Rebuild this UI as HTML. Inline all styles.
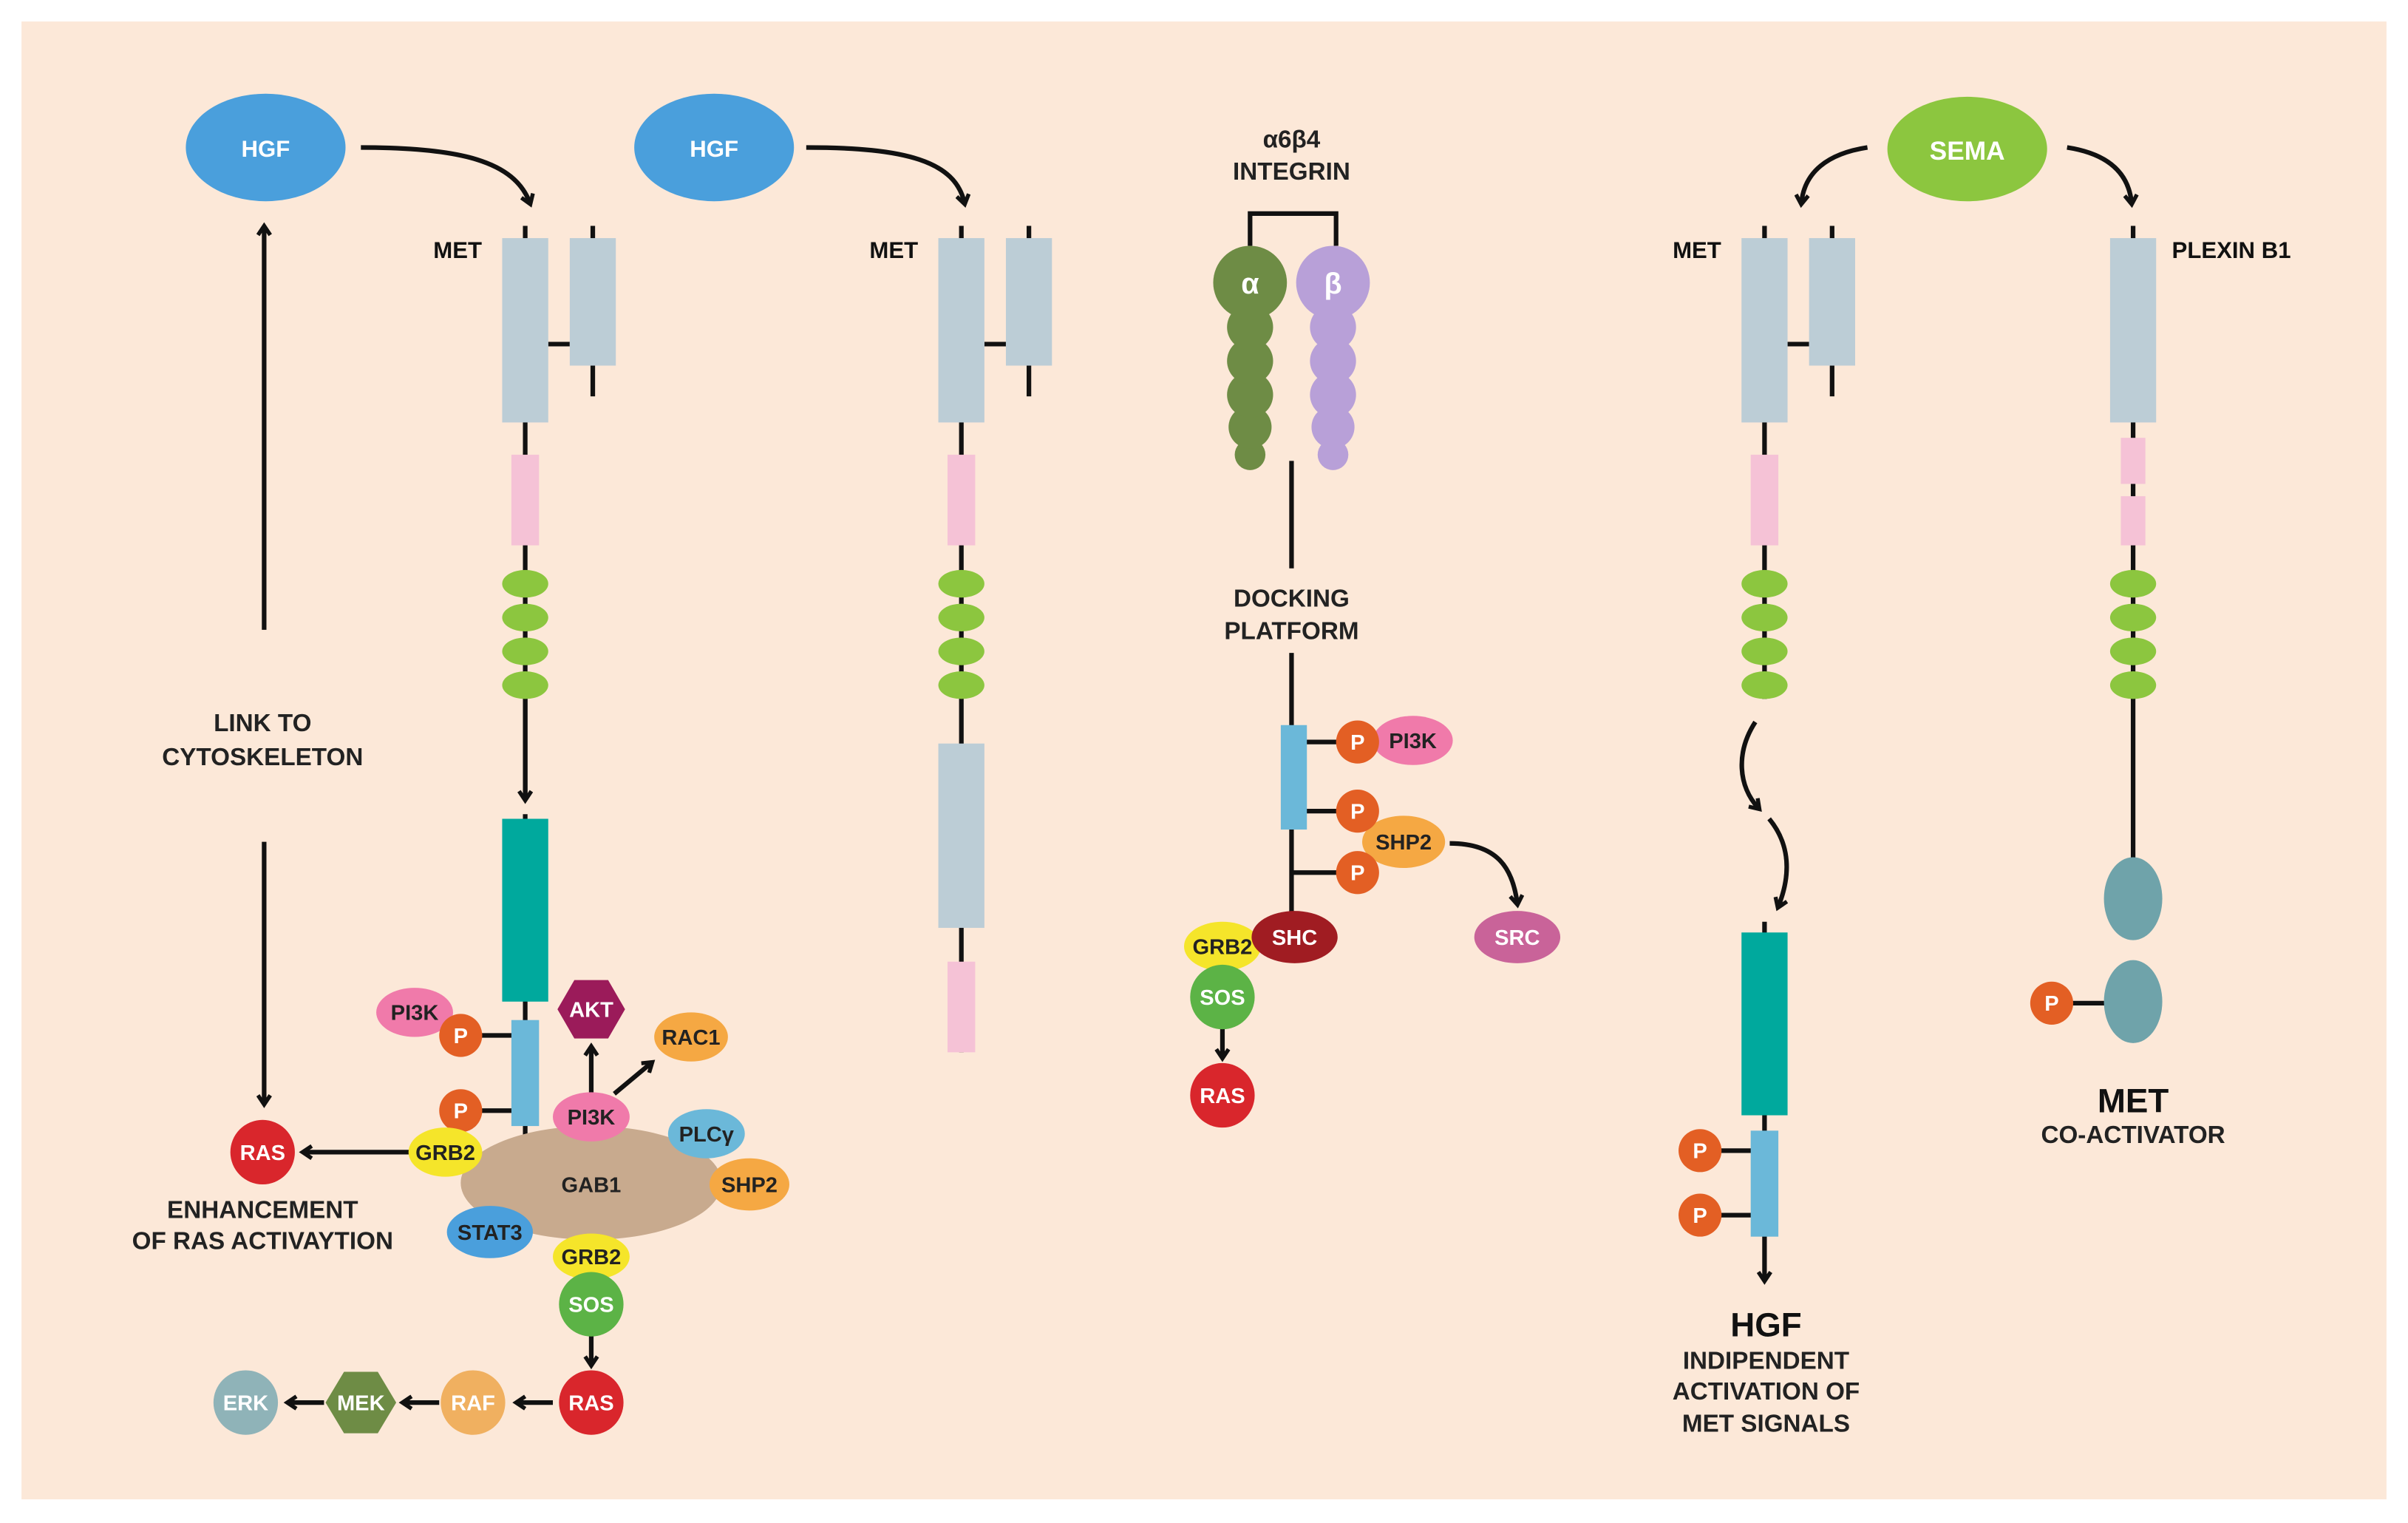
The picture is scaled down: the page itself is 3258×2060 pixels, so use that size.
<!DOCTYPE html>
<html><head><meta charset="utf-8"><style>
html,body{margin:0;padding:0;background:#fff;}
svg{display:block;}
text{font-family:"Liberation Sans",sans-serif;font-weight:bold;text-anchor:middle;}
</style></head><body>
<svg width="3258" height="2060" viewBox="0 0 1568 991.4" preserveAspectRatio="none" xmlns="http://www.w3.org/2000/svg">
<defs>
<marker id="ah" markerWidth="10" markerHeight="10" refX="6" refY="5" orient="auto" markerUnits="userSpaceOnUse">
<path d="M1,1 L7,5 L1,9" fill="none" stroke="#111" stroke-width="2.6"/>
</marker>
</defs>
<rect x="0" y="0" width="1568" height="991.4" fill="#fff"/>
<rect x="14" y="14" width="1540" height="962" fill="#fce8d8"/>

<g stroke="#111" stroke-width="3" fill="none">
<!-- panel1 -->
<path d="M235,96 C300,96 335,105 345,132" marker-end="url(#ah)"/>
<line x1="342" y1="147" x2="342" y2="520" />
<line x1="342" y1="455" x2="342" y2="520" marker-end="url(#ah)"/>
<line x1="342" y1="530" x2="342" y2="760"/>
<line x1="386" y1="147" x2="386" y2="258"/>
<line x1="357" y1="224" x2="371" y2="224"/>
<line x1="172" y1="410" x2="172" y2="148" marker-end="url(#ah)"/>
<line x1="172" y1="548" x2="172" y2="718" marker-end="url(#ah)"/>
<line x1="268" y1="750" x2="198" y2="750" marker-end="url(#ah)"/>
<line x1="300" y1="674" x2="342" y2="674"/>
<line x1="300" y1="723" x2="342" y2="723"/>
<line x1="385" y1="712" x2="385" y2="682" marker-end="url(#ah)"/>
<line x1="400" y1="712" x2="424" y2="692" marker-end="url(#ah)"/>
<line x1="385" y1="865" x2="385" y2="888" marker-end="url(#ah)"/>
<line x1="360" y1="913" x2="337" y2="913" marker-end="url(#ah)"/>
<line x1="286" y1="913" x2="263" y2="913" marker-end="url(#ah)"/>
<line x1="211" y1="913" x2="188" y2="913" marker-end="url(#ah)"/>
<!-- panel2 -->
<path d="M525,96 C590,96 622,105 628,132" marker-end="url(#ah)"/>
<line x1="626" y1="147" x2="626" y2="685"/>
<line x1="670" y1="147" x2="670" y2="258"/>
<line x1="641" y1="224" x2="655" y2="224"/>
<!-- panel3 -->
<path d="M814,160 V139 H870 V160"/>
<line x1="841" y1="300" x2="841" y2="370"/>
<line x1="841" y1="425" x2="841" y2="600"/>
<line x1="841" y1="483" x2="884" y2="483"/>
<line x1="841" y1="528" x2="884" y2="528"/>
<line x1="841" y1="568" x2="884" y2="568"/>
<path d="M944,549 C975,549 985,565 988,588" marker-end="url(#ah)"/>
<line x1="796" y1="666" x2="796" y2="688" marker-end="url(#ah)"/>
<!-- panel4 -->
<path d="M1216,96 C1190,100 1175,112 1173,132" marker-end="url(#ah)"/>
<path d="M1346,96 C1372,100 1386,112 1388,132" marker-end="url(#ah)"/>
<line x1="1149" y1="147" x2="1149" y2="455"/>
<line x1="1193" y1="147" x2="1193" y2="258"/>
<line x1="1164" y1="224" x2="1178" y2="224"/>
<path d="M1143,470 C1130,490 1132,512 1145,526" marker-end="url(#ah)"/>
<path d="M1152,533 C1166,550 1166,570 1158,590" marker-end="url(#ah)"/>
<line x1="1149" y1="600" x2="1149" y2="833" marker-end="url(#ah)"/>
<line x1="1107" y1="749" x2="1149" y2="749"/>
<line x1="1107" y1="791" x2="1149" y2="791"/>
<line x1="1389" y1="147" x2="1389" y2="600"/>
<line x1="1336" y1="653" x2="1389" y2="653"/>
</g>

<!-- panel1 shapes -->
<ellipse cx="173" cy="96" rx="52" ry="35" fill="#4a9fdc"/>
<text x="173" y="102" font-size="15" fill="#fff">HGF</text>
<text x="298" y="168" font-size="15" fill="#111">MET</text>
<rect x="327" y="155" width="30" height="120" fill="#bccdd6"/>
<rect x="371" y="155" width="30" height="83" fill="#bccdd6"/>
<rect x="333" y="296" width="18" height="59" fill="#f5c2d6"/>
<g fill="#8cc63f"><ellipse cx="342" cy="380" rx="15" ry="9"/><ellipse cx="342" cy="402" rx="15" ry="9"/><ellipse cx="342" cy="424" rx="15" ry="9"/><ellipse cx="342" cy="446" rx="15" ry="9"/></g>
<rect x="327" y="533" width="30" height="119" fill="#00a99d"/>
<rect x="333" y="664" width="18" height="69" fill="#6bb8d9"/>
<text x="171" y="476" font-size="16" fill="#222">LINK TO</text>
<text x="171" y="498" font-size="16" fill="#222">CYTOSKELETON</text>
<ellipse cx="385" cy="770" rx="85" ry="37" fill="#c8aa8e"/>
<text x="385" y="776" font-size="14" fill="#222">GAB1</text>
<g font-size="14">
<ellipse cx="270" cy="659" rx="25" ry="16" fill="#f07aaa"/><text x="270" y="664" fill="#222">PI3K</text>
<circle cx="300" cy="674" r="14" fill="#e35f24"/><text x="300" y="679" fill="#fff">P</text>
<circle cx="300" cy="723" r="14" fill="#e35f24"/><text x="300" y="728" fill="#fff">P</text>
<ellipse cx="290" cy="750" rx="24" ry="16" fill="#f5e52a"/><text x="290" y="755" fill="#222">GRB2</text>
<circle cx="171" cy="750" r="21" fill="#d9262c"/><text x="171" y="755" fill="#fff">RAS</text>
<polygon points="363,657 374,638 396,638 407,657 396,676 374,676" fill="#9b1b5a"/><text x="385" y="662" fill="#fff">AKT</text>
<ellipse cx="385" cy="727" rx="25" ry="16" fill="#f07aaa"/><text x="385" y="732" fill="#222">PI3K</text>
<ellipse cx="450" cy="675" rx="24" ry="16" fill="#f5a843"/><text x="450" y="680" fill="#222">RAC1</text>
<ellipse cx="460" cy="738" rx="25" ry="16" fill="#6bb8d9"/><text x="460" y="743" fill="#222">PLCγ</text>
<ellipse cx="488" cy="771" rx="26" ry="17" fill="#f5a843"/><text x="488" y="776" fill="#222">SHP2</text>
<ellipse cx="319" cy="802" rx="28" ry="17" fill="#4a9fdc"/><text x="319" y="807" fill="#222">STAT3</text>
<ellipse cx="385" cy="818" rx="25" ry="15" fill="#f5e52a"/><text x="385" y="823" fill="#222">GRB2</text>
<circle cx="385" cy="849" r="21" fill="#5cb346"/><text x="385" y="854" fill="#fff">SOS</text>
<circle cx="385" cy="913" r="21" fill="#d9262c"/><text x="385" y="918" fill="#fff">RAS</text>
<circle cx="308" cy="913" r="21" fill="#f0b060"/><text x="308" y="918" fill="#fff">RAF</text>
<polygon points="212,913 224,893 246,893 258,913 246,933 224,933" fill="#6e8c45"/><text x="235" y="918" fill="#fff">MEK</text>
<circle cx="160" cy="913" r="21" fill="#8fb3b8"/><text x="160" y="918" fill="#fff">ERK</text>
</g>
<text x="171" y="793" font-size="16" fill="#222">ENHANCEMENT</text>
<text x="171" y="813" font-size="16" fill="#222">OF RAS ACTIVAYTION</text>

<!-- panel2 -->
<ellipse cx="465" cy="96" rx="52" ry="35" fill="#4a9fdc"/>
<text x="465" y="102" font-size="15" fill="#fff">HGF</text>
<text x="582" y="168" font-size="15" fill="#111">MET</text>
<rect x="611" y="155" width="30" height="120" fill="#bccdd6"/>
<rect x="655" y="155" width="30" height="83" fill="#bccdd6"/>
<rect x="617" y="296" width="18" height="59" fill="#f5c2d6"/>
<g fill="#8cc63f"><ellipse cx="626" cy="380" rx="15" ry="9"/><ellipse cx="626" cy="402" rx="15" ry="9"/><ellipse cx="626" cy="424" rx="15" ry="9"/><ellipse cx="626" cy="446" rx="15" ry="9"/></g>
<rect x="611" y="484" width="30" height="120" fill="#bccdd6"/>
<rect x="617" y="626" width="18" height="59" fill="#f5c2d6"/>

<!-- panel3 -->
<text x="841" y="96" font-size="16" fill="#222">α6β4</text>
<text x="841" y="117" font-size="16" fill="#222">INTEGRIN</text>
<g fill="#6e8c45"><circle cx="814" cy="296" r="10"/><circle cx="814" cy="278" r="14"/><circle cx="814" cy="257" r="15"/><circle cx="814" cy="235" r="15"/><circle cx="814" cy="213" r="15"/><circle cx="814" cy="184" r="24"/></g>
<g fill="#b8a0d8"><circle cx="868" cy="296" r="10"/><circle cx="868" cy="278" r="14"/><circle cx="868" cy="257" r="15"/><circle cx="868" cy="235" r="15"/><circle cx="868" cy="213" r="15"/><circle cx="868" cy="184" r="24"/></g>
<text x="814" y="191" font-size="19" fill="#fff" font-weight="normal">α</text>
<text x="868" y="191" font-size="19" fill="#fff" font-weight="normal">β</text>
<text x="841" y="395" font-size="16" fill="#222">DOCKING</text>
<text x="841" y="416" font-size="16" fill="#222">PLATFORM</text>
<rect x="834" y="472" width="17" height="68" fill="#6bb8d9"/>
<g font-size="14">
<ellipse cx="920" cy="482" rx="26" ry="16" fill="#f07aaa"/><text x="920" y="487" fill="#222">PI3K</text>
<circle cx="884" cy="483" r="14" fill="#e35f24"/><text x="884" y="488" fill="#fff">P</text>
<ellipse cx="914" cy="548" rx="27" ry="17" fill="#f5a843"/><text x="914" y="553" fill="#222">SHP2</text>
<circle cx="884" cy="528" r="14" fill="#e35f24"/><text x="884" y="533" fill="#fff">P</text>
<circle cx="884" cy="568" r="14" fill="#e35f24"/><text x="884" y="573" fill="#fff">P</text>
<ellipse cx="988" cy="610" rx="28" ry="17" fill="#c96399"/><text x="988" y="615" fill="#fff">SRC</text>
<ellipse cx="796" cy="616" rx="25" ry="16" fill="#f5e52a"/><text x="796" y="621" fill="#222">GRB2</text>
<ellipse cx="843" cy="610" rx="28" ry="17" fill="#a01c22"/><text x="843" y="615" fill="#fff">SHC</text>
<circle cx="796" cy="649" r="21" fill="#5cb346"/><text x="796" y="654" fill="#fff">SOS</text>
<circle cx="796" cy="713" r="21" fill="#d9262c"/><text x="796" y="718" fill="#fff">RAS</text>
</g>

<!-- panel4 -->
<ellipse cx="1281" cy="97" rx="52" ry="34" fill="#8cc63f"/>
<text x="1281" y="104" font-size="17" fill="#fff">SEMA</text>
<text x="1105" y="168" font-size="15" fill="#111">MET</text>
<rect x="1134" y="155" width="30" height="120" fill="#bccdd6"/>
<rect x="1178" y="155" width="30" height="83" fill="#bccdd6"/>
<rect x="1140" y="296" width="18" height="59" fill="#f5c2d6"/>
<g fill="#8cc63f"><ellipse cx="1149" cy="380" rx="15" ry="9"/><ellipse cx="1149" cy="402" rx="15" ry="9"/><ellipse cx="1149" cy="424" rx="15" ry="9"/><ellipse cx="1149" cy="446" rx="15" ry="9"/></g>
<rect x="1134" y="607" width="30" height="119" fill="#00a99d"/>
<rect x="1140" y="736" width="18" height="69" fill="#6bb8d9"/>
<g font-size="14">
<circle cx="1107" cy="749" r="14" fill="#e35f24"/><text x="1107" y="754" fill="#fff">P</text>
<circle cx="1107" cy="791" r="14" fill="#e35f24"/><text x="1107" y="796" fill="#fff">P</text>
<circle cx="1336" cy="653" r="14" fill="#e35f24"/><text x="1336" y="658" fill="#fff">P</text>
</g>
<text x="1150" y="870" font-size="22" fill="#111">HGF</text>
<text x="1150" y="891" font-size="16" fill="#222">INDIPENDENT</text>
<text x="1150" y="911" font-size="16" fill="#222">ACTIVATION OF</text>
<text x="1150" y="932" font-size="16" fill="#222">MET SIGNALS</text>
<text x="1453" y="168" font-size="15" fill="#111">PLEXIN B1</text>
<rect x="1374" y="155" width="30" height="120" fill="#bccdd6"/>
<rect x="1381" y="285" width="16" height="30" fill="#f5c2d6"/>
<rect x="1381" y="323" width="16" height="32" fill="#f5c2d6"/>
<g fill="#8cc63f"><ellipse cx="1389" cy="380" rx="15" ry="9"/><ellipse cx="1389" cy="402" rx="15" ry="9"/><ellipse cx="1389" cy="424" rx="15" ry="9"/><ellipse cx="1389" cy="446" rx="15" ry="9"/></g>
<ellipse cx="1389" cy="585" rx="19" ry="27" fill="#6fa3aa"/>
<ellipse cx="1389" cy="652" rx="19" ry="27" fill="#6fa3aa"/>
<text x="1389" y="724" font-size="22" fill="#111">MET</text>
<text x="1389" y="744" font-size="16" fill="#222">CO-ACTIVATOR</text>
</svg>
</body></html>
